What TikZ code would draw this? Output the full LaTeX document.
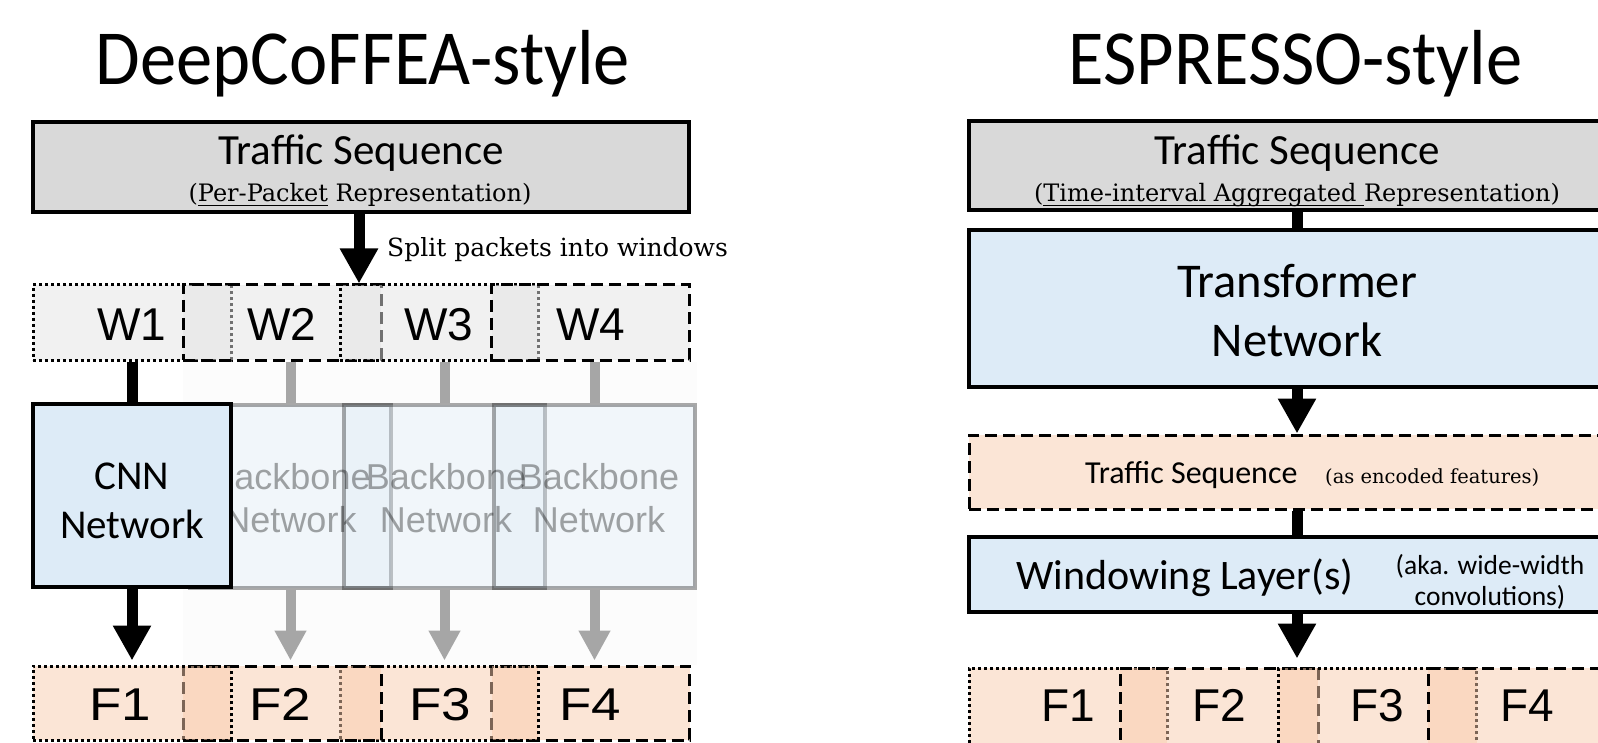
\documentclass[tikz,border=0pt]{standalone}
\usepackage{fontspec}
\usepackage{graphicx}
\setmainfont{Carlito}
\newfontfamily\arialfont{Liberation Sans}
\newfontfamily\cambriafont{DejaVu Serif}
\usetikzlibrary{arrows.meta}

\definecolor{boxgray}{HTML}{D9D9D9}
\definecolor{netblue}{HTML}{DDEBF7}
\definecolor{peach}{HTML}{F8CBAD}
\definecolor{peachsolid}{HTML}{FBE5D6}
\definecolor{wingray}{HTML}{E3E3E3}
\definecolor{fadegray}{HTML}{A6A6A6}
\definecolor{backdrop}{HTML}{FCFCFC}

% font size in pt (1pt = 1px of the final image)
\newcommand\setfs[1]{\fontsize{#1pt}{#1pt}\selectfont}
% serif annotation text
\newcommand\serifline[2]{{\cambriafont\setfs{#1}#2}}
% underline at a fixed depth below the baseline
\newcommand\ulbox[1]{\setbox0=\hbox{#1}\rlap{\rule[-4.5pt]{\wd0}{1.5pt}}\box0\relax}
% wide sans labels of the feature row
\newcommand\widelabel[1]{\scalebox{1.15}[1]{#1}}

\begin{document}
\begin{tikzpicture}[x=1pt,y=-1pt,
  solidbox/.style={draw=black, line width=3.5pt, inner sep=0},
  tsbox/.style={solidbox, fill=boxgray},
  netbox/.style={solidbox, fill=netblue},
  dashbox/.style={draw=black, line width=3pt, dash pattern=on 12pt off 6pt, inner sep=0},
  dotbox/.style={draw=black, line width=3pt, dash pattern=on 3pt off 3pt, inner sep=0},
  winfill/.style={fill=wingray, fill opacity=0.5},
  featfill/.style={fill=peach, fill opacity=0.5},
  fadebox/.style={draw=black, line width=3.5pt, fill=netblue, draw opacity=0.33, fill opacity=0.35, inner sep=0},
  txt/.style={inner sep=0, anchor=base},
  fadetxt/.style={txt, text opacity=0.35},
  shaft/.style={line width=11pt, draw=black},
  bigarrow/.style={shaft, -{Triangle[width=36pt,length=35pt]}},
  fadeshaft/.style={line width=10pt, draw=fadegray},
  fadearrow/.style={fadeshaft, -{Triangle[width=30pt,length=30pt]}},
]
\useasboundingbox (0,0) rectangle (1598,743);
\clip (0,0) rectangle (1598,743);

% ---------------- titles ----------------
\node[txt] (titleL) at (363,85) {\setfs{78}\scalebox{0.93}[1]{DeepCoFFEA-style}};
\node[txt] (titleR) at (1295.5,85) {\setfs{78}\scalebox{0.93}[1]{ESPRESSO-style}};

% ================= left: per-packet pipeline =================
\node[tsbox, minimum width=656pt, minimum height=90pt] (tsL) at (361,167) {};
\node[txt] (tsLa) at (361,165) {\setfs{43}Traffic Sequence};
\node[txt] (tsLb) at (360,202) {\serifline{24}{(\ulbox{Per-Packet} Representation)}};

% windows (later windows overlap earlier ones)
\node[dotbox, winfill, minimum width=198pt, minimum height=75pt] (W1) at (132,322.5) {};
\node[dashbox, winfill, minimum width=198pt, minimum height=75pt] (W2) at (282,322.5) {};
\node[dotbox, winfill, minimum width=198pt, minimum height=75pt] (W3) at (439,322.5) {};
\node[dashbox, winfill, minimum width=198pt, minimum height=75pt] (W4) at (590.5,322.5) {};
\foreach \n/\x in {1/132,2/282,3/439,4/590.5}
  \node[txt] (W\n t) at (\x,340) {\arialfont\setfs{46}W\n};

\coordinate (splitx) at (359,0);
\draw[bigarrow] (tsL.south -| splitx) -- (W1.north -| splitx);
\node[txt, anchor=base west] (split) at (387,257) {\serifline{25}{Split packets into windows}};

% faded copies of the backbone for the other windows
\fill[backdrop] (183,362) rectangle (697,665);
\node[fadebox, minimum width=201pt, minimum height=183pt] (bb2) at (290.5,496.5) {};
\node[fadebox, minimum width=201pt, minimum height=183pt] (bb3) at (444.5,496.5) {};
\node[fadebox, minimum width=201pt, minimum height=183pt] (bb4) at (594.5,496.5) {};
\node[fadetxt] (bb2a) at (290.5,489) {\arialfont\setfs{36}Backbone};
\node[fadetxt] (bb2b) at (290.5,532) {\arialfont\setfs{36}Network};
\node[fadetxt] (bb3a) at (446,489) {\arialfont\setfs{36}Backbone};
\node[fadetxt] (bb3b) at (446,532) {\arialfont\setfs{36}Network};
\node[fadetxt] (bb4a) at (599,489) {\arialfont\setfs{36}Backbone};
\node[fadetxt] (bb4b) at (599,532) {\arialfont\setfs{36}Network};

\draw[fadeshaft] (bb2.north |- W2.south) -- (bb2.north);
\draw[fadeshaft] (bb3.north |- W3.south) -- (bb3.north);
\draw[fadeshaft] (bb4.north |- W4.south) -- (bb4.north);

% the active CNN
\node[netbox, minimum width=198pt, minimum height=183pt] (cnn) at (132,495.5) {};
\node[txt] (cnna) at (132,489) {\setfs{41}CNN};
\node[txt] (cnnb) at (132,538) {\setfs{41}Network};
\draw[shaft] (W1.south) -- (cnn.north);

% feature windows (earlier windows on top)
\node[dashbox, featfill, minimum width=198pt, minimum height=74pt] (F4) at (590.5,703) {};
\node[dotbox, featfill, minimum width=198pt, minimum height=74pt] (F3) at (439,703) {};
\node[dashbox, featfill, minimum width=198pt, minimum height=74pt] (F2) at (282,703) {};
\node[dotbox, featfill, minimum width=198pt, minimum height=74pt] (F1) at (132,703) {};
\foreach \n/\x in {1/120,2/280,3/440,4/590}
  \node[txt] (F\n t) at (\x,720) {\arialfont\setfs{46}\widelabel{F\n}};

\draw[bigarrow, shorten >=4pt] (cnn.south) -- (cnn.south |- F1.north);
\draw[fadearrow, shorten >=4pt] (bb2.south) -- (bb2.south |- F2.north);
\draw[fadearrow, shorten >=4pt] (bb3.south) -- (bb3.south |- F3.north);
\draw[fadearrow, shorten >=4pt] (bb4.south) -- (bb4.south |- F4.north);

% ================= right: aggregated pipeline =================
\coordinate (spine) at (1297,0);
\node[tsbox, minimum width=661pt, minimum height=89pt] (tsR) at (1299.5,165.5) {};
\node[txt] (tsRa) at (1297,165) {\setfs{43}Traffic Sequence};
\node[txt] (tsRb) at (1297,202) {\serifline{24}{(\ulbox{Time-interval Aggregated\ }Representation)}};

\node[netbox, minimum width=661pt, minimum height=157pt] (trans) at (1299.5,308.5) {};
\node[txt] (transa) at (1297,298) {\setfs{48.5}Transformer};
\node[txt] (transb) at (1297,356) {\setfs{48.5}Network};
\draw[shaft] (tsR.south -| spine) -- (trans.north -| spine);

\node[dashbox, fill=peachsolid, minimum width=661pt, minimum height=74pt] (enc) at (1299.5,472) {};
\node[txt, anchor=base west] (enca) at (1085,483) {\setfs{32}Traffic Sequence};
\node[txt, anchor=base west] (encb) at (1325,483) {\serifline{19.5}{(as encoded features)}};
\draw[bigarrow] (trans.south -| spine) -- (enc.north -| spine);

\node[netbox, minimum width=661pt, minimum height=75pt] (wl) at (1299.5,574.5) {};
\node[txt, anchor=base west] (wla) at (1016,589) {\setfs{42}Windowing Layer(s)};
\node[txt] (wlb) at (1490,574) {\setfs{27.5}(aka. wide-width};
\node[txt] (wlc) at (1490,605) {\setfs{27.5}convolutions)};
\draw[shaft] (enc.south -| spine) -- (wl.north -| spine);

\node[dotbox, featfill, minimum width=198pt, minimum height=84pt] (G1) at (1068,710) {};
\node[dashbox, featfill, minimum width=198pt, minimum height=84pt] (G2) at (1219,710) {};
\node[dotbox, featfill, minimum width=198pt, minimum height=84pt] (G3) at (1377.5,710) {};
\node[dashbox, featfill, minimum width=198pt, minimum height=84pt] (G4) at (1527,710) {};
\foreach \n/\x in {1/1068,2/1219,3/1377.5,4/1527}
  \node[txt] (G\n t) at (\x,721) {\arialfont\setfs{46}F\n};
\draw[bigarrow, shorten >=8pt] (wl.south -| spine) -- (G2.north -| spine);
\end{tikzpicture}
\end{document}
